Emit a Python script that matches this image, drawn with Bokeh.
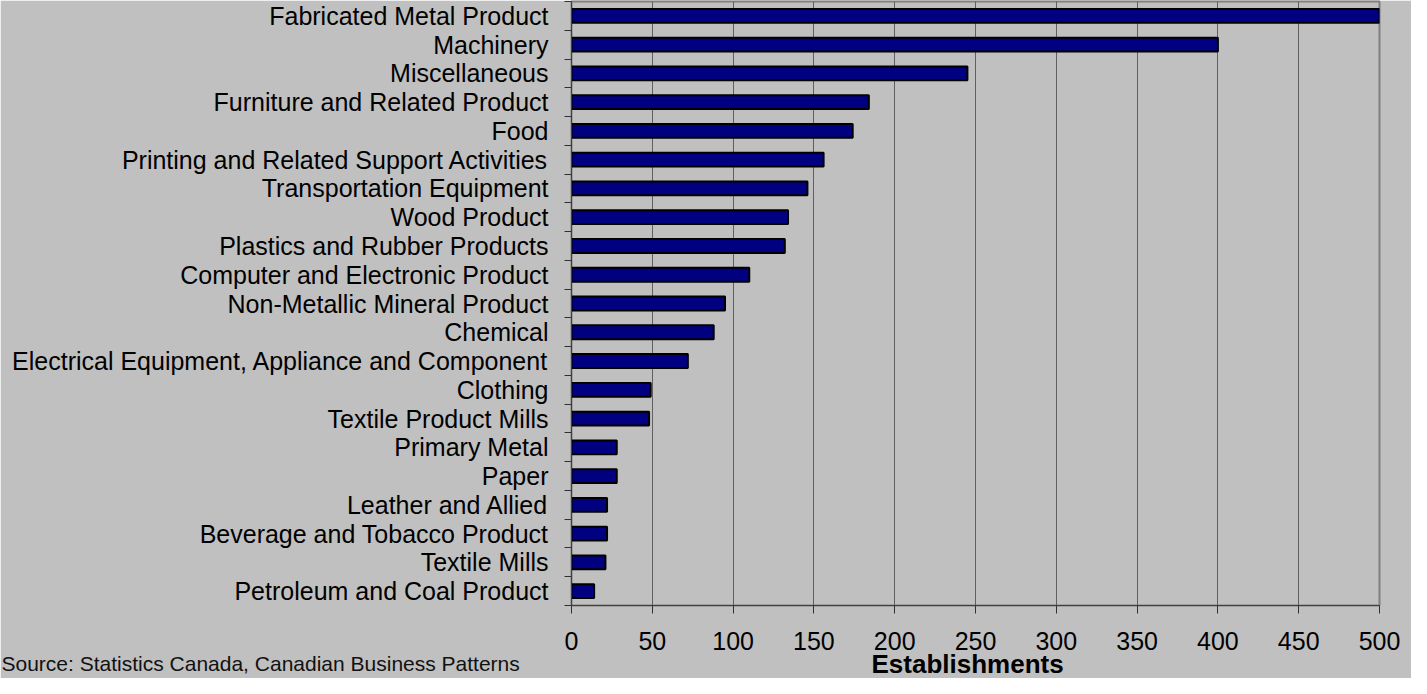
from bokeh.plotting import figure
from bokeh.models import Range1d, FixedTicker, Title
from bokeh.embed import file_html
from bokeh.resources import INLINE

categories = [
    "Fabricated Metal Product",
    "Machinery",
    "Miscellaneous",
    "Furniture and Related Product",
    "Food",
    "Printing and Related Support Activities",
    "Transportation Equipment",
    "Wood Product",
    "Plastics and Rubber Products",
    "Computer and Electronic Product",
    "Non-Metallic Mineral Product",
    "Chemical",
    "Electrical Equipment, Appliance and Component",
    "Clothing",
    "Textile Product Mills",
    "Primary Metal",
    "Paper",
    "Leather and Allied",
    "Beverage and Tobacco Product",
    "Textile Mills",
    "Petroleum and Coal Product",
]
values = [500, 400, 245, 184, 174, 156, 146, 134, 132, 110, 95, 88, 72, 49, 48, 28, 28, 22, 22, 21, 14]
x_ticks = [0, 50, 100, 150, 200, 250, 300, 350, 400, 450, 500]
x_title = "Establishments"
source_text = "Source: Statistics Canada, Canadian Business Patterns"

FONT = "Liberation Sans"
BG = "#c0c0c0"

n = len(categories)
centers = [n - i - 0.5 for i in range(n)]
boundaries = list(range(n + 1))

p = figure(width=1411, height=678, output_backend="svg", toolbar_location=None,
           x_range=Range1d(0, 500), y_range=Range1d(0, n),
           min_border_left=571, min_border_right=32, min_border_top=1,
           min_border_bottom=73)
p.background_fill_color = BG
p.border_fill_color = BG
p.outline_line_color = "#808080"
p.outline_line_width = 2

p.hbar(y=centers, right=values, left=0, height=0.48,
       fill_color="#000080", line_color="black", line_width=2)

# y axis
p.yaxis.ticker = FixedTicker(ticks=centers, minor_ticks=boundaries)
p.yaxis.major_label_overrides = {c: name for c, name in zip(centers, categories)}
p.yaxis.major_tick_out = 0
p.yaxis.major_tick_in = 0
p.yaxis.minor_tick_out = 7
p.yaxis.minor_tick_in = 0
p.yaxis.minor_tick_line_color = "#303030"
p.yaxis.axis_line_color = "#404040"
p.yaxis.major_label_text_font = FONT
p.yaxis.major_label_text_font_size = "25px"
p.yaxis.major_label_text_color = "black"
p.yaxis.major_label_standoff = 16

# x axis
p.xaxis.ticker = FixedTicker(ticks=x_ticks)
p.xaxis.major_tick_out = 8
p.xaxis.major_tick_in = 0
p.xaxis.minor_tick_out = 0
p.xaxis.minor_tick_in = 0
p.xaxis.major_tick_line_color = "#303030"
p.xaxis.axis_line_color = "#404040"
p.xaxis.major_label_text_font = FONT
p.xaxis.major_label_text_font_size = "25px"
p.xaxis.major_label_text_color = "black"
p.xaxis.major_label_standoff = 18

p.xgrid.ticker = FixedTicker(ticks=x_ticks)
p.xgrid.grid_line_color = "#606060"
p.xgrid.grid_line_width = 1
p.ygrid.visible = False

p.add_layout(Title(text=x_title, align="left", vertical_align="top",
                   offset=300, standoff=-7,
                   text_font=FONT, text_font_style="bold", text_font_size="26px",
                   text_color="black"), "below")
p.add_layout(Title(text=source_text, align="left", vertical_align="top",
                   offset=-570, standoff=-51,
                   text_font=FONT, text_font_style="normal", text_font_size="21px",
                   text_color="#111111"), "below")

open("out.html", "w").write(file_html(p, INLINE))
